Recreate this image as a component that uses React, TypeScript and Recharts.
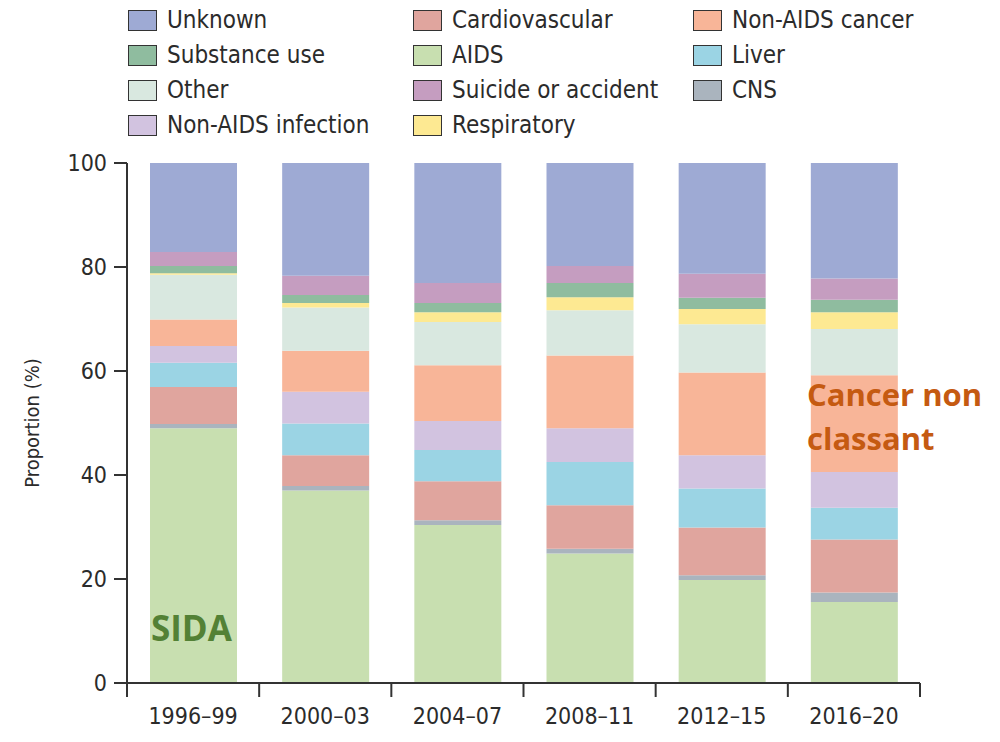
import { BarChart, Bar, XAxis, YAxis } from 'recharts';

const periods = ['1996–99', '2000–03', '2004–07', '2008–11', '2012–15', '2016–20'];

// stacked bottom → top, percent of deaths
const aids = [49.0, 37.0, 30.4, 24.9, 19.8, 15.6];
const cns = [0.8, 0.9, 0.9, 0.9, 0.9, 1.8];
const cardiovascular = [7.1, 5.9, 7.5, 8.4, 9.2, 10.2];
const liver = [4.7, 6.1, 6.0, 8.3, 7.5, 6.1];
const nonAidsInfection = [3.2, 6.1, 5.6, 6.5, 6.4, 6.9];
const nonAidsCancer = [5.1, 7.9, 10.7, 14.0, 15.9, 18.6];
const other = [8.6, 8.3, 8.3, 8.7, 9.3, 8.9];
const respiratory = [0.3, 0.9, 1.9, 2.5, 2.9, 3.2];
const substanceUse = [1.4, 1.5, 1.8, 2.7, 2.2, 2.4];
const suicide = [2.7, 3.7, 3.8, 3.3, 4.6, 4.1];
const unknown = [17.1, 21.7, 23.1, 19.8, 21.3, 22.2];

const yTicks = [0, 20, 40, 60, 80, 100];

const series = [
  { key: 'aids', name: 'AIDS', color: '#c8dfb0', values: aids },
  { key: 'cns', name: 'CNS', color: '#aab4be', values: cns },
  { key: 'cardio', name: 'Cardiovascular', color: '#e0a59e', values: cardiovascular },
  { key: 'liver', name: 'Liver', color: '#9bd4e4', values: liver },
  { key: 'nai', name: 'Non-AIDS infection', color: '#d2c3e0', values: nonAidsInfection },
  { key: 'nac', name: 'Non-AIDS cancer', color: '#f8b598', values: nonAidsCancer },
  { key: 'other', name: 'Other', color: '#d9e8e0', values: other },
  { key: 'resp', name: 'Respiratory', color: '#fde992', values: respiratory },
  { key: 'subst', name: 'Substance use', color: '#8fbc9f', values: substanceUse },
  { key: 'suicide', name: 'Suicide or accident', color: '#c59dc0', values: suicide },
  { key: 'unknown', name: 'Unknown', color: '#9eaad4', values: unknown },
];

// legend layout as in the figure (row-major, 3 columns)
const legendOrder = [
  ['unknown', 'cardio', 'nac'],
  ['subst', 'aids', 'liver'],
  ['other', 'suicide', 'cns'],
  ['nai', 'resp'],
];

const data = periods.map((period, i) => {
  const row: Record<string, string | number> = { period };
  series.forEach((s) => {
    row[s.key] = s.values[i];
  });
  return row;
});

const narrow = '"Liberation Sans Narrow", "DejaVu Sans Condensed", sans-serif';
const ink = '#2b2b2b';
const X_TICK_SIZE = 0;
const X_TICK_MARGIN = 20;

// category label + tick marks on the band edges
function PeriodTick(props: any) {
  const { x, y, payload, index, visibleTicksCount } = props;
  const half = payload.offset ?? 0;
  const axisY = y - X_TICK_SIZE - X_TICK_MARGIN;
  const last = index === (visibleTicksCount ?? periods.length) - 1;
  return (
    <g>
      <line x1={x - half} x2={x - half} y1={axisY} y2={axisY + 14} stroke="#333" strokeWidth={2} />
      {last && <line x1={x + half} x2={x + half} y1={axisY} y2={axisY + 14} stroke="#333" strokeWidth={2} />}
      <text x={x} y={y} dy={21} textAnchor="middle" fontFamily={narrow} fontSize={23} fill={ink}>
        {payload.value}
      </text>
    </g>
  );
}

function Legend() {
  const colLeft = [128, 413, 693];
  return (
    <>
      {legendOrder.map((row, r) =>
        row.map((key, c) => {
          const s = series.find((x) => x.key === key)!;
          return (
            <div
              key={key}
              style={{
                position: 'absolute',
                left: colLeft[c],
                top: 8 + r * 35,
                height: 24,
                display: 'flex',
                alignItems: 'center',
                fontFamily: narrow,
                fontSize: 24,
                color: ink,
                whiteSpace: 'nowrap',
              }}
            >
              <span
                style={{
                  width: 27,
                  height: 19,
                  background: s.color,
                  border: '1.5px solid #333',
                  marginRight: 10,
                  display: 'inline-block',
                }}
              />
              {s.name}
            </div>
          );
        })
      )}
    </>
  );
}

export default function App() {
  return (
    <div style={{ position: 'absolute', left: 0, top: 0, width: 1000, height: 742, background: '#fff' }}>
      <Legend />
      <BarChart
        width={1000}
        height={742}
        data={data}
        margin={{ top: 163, right: 80, left: 0, bottom: 0 }}
        barSize={87}
      >
        <XAxis
          dataKey="period"
          height={59}
          axisLine={{ stroke: '#333', strokeWidth: 2 }}
          tickLine={false}
          tickSize={X_TICK_SIZE}
          tickMargin={X_TICK_MARGIN}
          tick={<PeriodTick />}
          interval={0}
        />
        <YAxis
          domain={[0, 100]}
          ticks={yTicks}
          width={127}
          axisLine={{ stroke: '#333', strokeWidth: 2 }}
          tickLine={{ stroke: '#333', strokeWidth: 2 }}
          tickSize={13}
          tickMargin={7}
          tick={{ fontFamily: narrow, fontSize: 23, fill: ink }}
          label={{
            value: 'Proportion (%)',
            angle: -90,
            position: 'insideLeft',
            offset: 32,
            style: { textAnchor: 'middle', fontFamily: narrow, fontSize: 20, fill: ink },
          }}
        />
        {series.map((s) => (
          <Bar key={s.key} dataKey={s.key} stackId="a" fill={s.color} isAnimationActive={false} />
        ))}
      </BarChart>
      <div
        style={{
          position: 'absolute',
          left: 151,
          top: 604,
          fontFamily: '"Open Sans", sans-serif',
          fontWeight: 700,
          fontSize: 35,
          color: '#538135',
        }}
      >
        SIDA
      </div>
      <div
        style={{
          position: 'absolute',
          left: 807,
          top: 372,
          fontFamily: '"Open Sans", sans-serif',
          fontWeight: 700,
          fontSize: 31,
          lineHeight: '44px',
          color: '#c55a11',
        }}
      >
        Cancer non
        <br />
        classant
      </div>
    </div>
  );
}
